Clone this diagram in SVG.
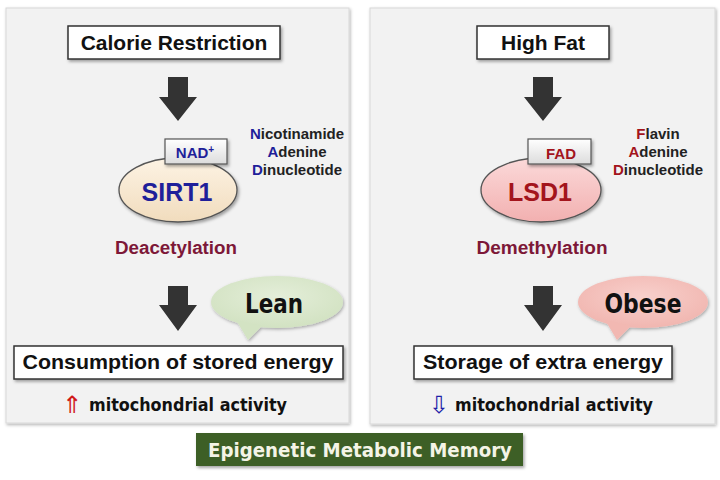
<svg xmlns="http://www.w3.org/2000/svg" width="720" height="480" viewBox="0 0 720 480">
<defs>
<filter id="sh" x="-10%" y="-10%" width="130%" height="140%">
<feDropShadow dx="1.5" dy="2" stdDeviation="1.5" flood-color="#000" flood-opacity="0.35"/>
</filter>
<filter id="psh" x="-5%" y="-5%" width="110%" height="110%">
<feDropShadow dx="1" dy="1.5" stdDeviation="1.5" flood-color="#000" flood-opacity="0.3"/>
</filter>
<linearGradient id="gCream" x1="0" y1="0" x2="0" y2="1">
<stop offset="0" stop-color="#fdf3e4"/><stop offset="1" stop-color="#f1dcbd"/>
</linearGradient>
<linearGradient id="gPink" x1="0" y1="0" x2="0" y2="1">
<stop offset="0" stop-color="#fbd9d9"/><stop offset="1" stop-color="#f2b0b0"/>
</linearGradient>
<linearGradient id="gTag" x1="0" y1="0" x2="0" y2="1">
<stop offset="0" stop-color="#ffffff"/><stop offset="1" stop-color="#dcdcdc"/>
</linearGradient>
<radialGradient id="gLean" cx="0.5" cy="0.4" r="0.6">
<stop offset="0" stop-color="#e4eed9"/><stop offset="1" stop-color="#d2e2c2"/>
</radialGradient>
<radialGradient id="gObese" cx="0.5" cy="0.4" r="0.6">
<stop offset="0" stop-color="#f8d0cc"/><stop offset="1" stop-color="#f1b6b0"/>
</radialGradient>
</defs>
<style>
.panel{fill:#f2f2f2;stroke:#d8d8d8;stroke-width:1}
.box{fill:#ffffff;stroke:#333333;stroke-width:1.5}
.t{font-family:"Liberation Sans",Arial,sans-serif;font-weight:bold;text-anchor:middle}
.c{font-family:"DejaVu Sans","Liberation Sans",sans-serif;font-weight:bold;text-anchor:middle}
.arrow{fill:#333333}
.tag{fill:url(#gTag);stroke:#555;stroke-width:1.2}
.enz{stroke:#555;stroke-width:1.3}
.mag{fill:#7d1838}
</style>
<rect width="720" height="480" fill="#ffffff"/>
<g id="panel-left"><rect class="panel" x="6" y="8" width="343" height="415" filter="url(#psh)"/></g>
<g id="panel-right"><rect class="panel" x="370" y="8" width="345" height="416" filter="url(#psh)"/></g>

<g id="connectors">
<polygon class="arrow" points="168,77 188,77 188,97 197,97 178,121 159,97 168,97"/>
<polygon class="arrow" points="168,286 188,286 188,305 197,305 178,331 159,305 168,305"/>
<polygon class="arrow" points="533,77 553,77 553,97 562,97 543,121 524,97 533,97"/>
<polygon class="arrow" points="533,286 553,286 553,305 562,305 543,331 524,305 533,305"/>
</g>

<g id="calorie-restriction">
<rect class="box" x="68" y="26" width="212" height="33" filter="url(#sh)"/>
<text class="t" x="174" y="50" font-size="21" fill="#111">Calorie Restriction</text>
</g>
<g id="sirt1">
<ellipse class="enz" cx="178" cy="190" rx="59" ry="32" fill="url(#gCream)" filter="url(#sh)"/>
<text class="t" x="177" y="201" font-size="25" fill="#1f1f9a">SIRT1</text>
</g>
<g id="nad">
<rect class="tag" x="165" y="139" width="62" height="25" filter="url(#sh)"/>
<text class="t" x="195" y="158" font-size="15" fill="#1f1f9a">NAD<tspan font-size="10" dy="-5">+</tspan></text>
</g>
<g id="nad-legend">
<text class="t" x="297" y="139" font-size="15" fill="#222"><tspan fill="#1f1f9a">N</tspan>icotinamide</text>
<text class="t" x="297" y="157" font-size="15" fill="#222"><tspan fill="#1f1f9a">A</tspan>denine</text>
<text class="t" x="297" y="175" font-size="15" fill="#222"><tspan fill="#1f1f9a">D</tspan>inucleotide</text>
</g>
<g id="deacetylation">
<text class="t mag" x="176" y="254" font-size="18" textLength="122" lengthAdjust="spacingAndGlyphs">Deacetylation</text>
</g>
<g id="lean">
<g filter="url(#psh)">
<ellipse cx="277" cy="302" rx="66" ry="26" fill="url(#gLean)"/>
<polygon points="236,320 248,340 262,326" fill="#d3e3c3"/>
</g>
<text class="c" x="274" y="313" font-size="26" fill="#111" textLength="58" lengthAdjust="spacingAndGlyphs">Lean</text>
</g>
<g id="consumption">
<rect class="box" x="14" y="346" width="329" height="33" filter="url(#sh)"/>
<text class="t" x="178" y="369" font-size="21" fill="#111" textLength="311" lengthAdjust="spacingAndGlyphs">Consumption of stored energy</text>
</g>
<g id="mito-left">
<text x="72" y="413" font-family="DejaVu Sans, sans-serif" font-size="24" text-anchor="middle" fill="#d01818">⇑</text>
<text class="c" x="188" y="411" font-size="18" fill="#111" textLength="198" lengthAdjust="spacingAndGlyphs">mitochondrial activity</text>
</g>

<g id="high-fat">
<rect class="box" x="477" y="26" width="132" height="33" filter="url(#sh)"/>
<text class="t" x="543" y="50" font-size="21" fill="#111">High Fat</text>
</g>
<g id="lsd1">
<ellipse class="enz" cx="541" cy="190" rx="60" ry="32" fill="url(#gPink)" filter="url(#sh)"/>
<text class="t" x="540" y="201" font-size="25" fill="#a3141c">LSD1</text>
</g>
<g id="fad">
<rect class="tag" x="528" y="139" width="63" height="25" filter="url(#sh)"/>
<text class="t" x="561" y="159" font-size="15" fill="#a3141c">FAD</text>
</g>
<g id="fad-legend">
<text class="t" x="658" y="139" font-size="15" fill="#222"><tspan fill="#a3141c">F</tspan>lavin</text>
<text class="t" x="658" y="157" font-size="15" fill="#222"><tspan fill="#a3141c">A</tspan>denine</text>
<text class="t" x="658" y="175" font-size="15" fill="#222"><tspan fill="#a3141c">D</tspan>inucleotide</text>
</g>
<g id="demethylation">
<text class="t mag" x="542" y="254" font-size="18" textLength="131" lengthAdjust="spacingAndGlyphs">Demethylation</text>
</g>
<g id="obese">
<g filter="url(#psh)">
<ellipse cx="643" cy="302" rx="65" ry="26" fill="url(#gObese)"/>
<polygon points="605,320 617,340 631,326" fill="#f2b8b2"/>
</g>
<text class="c" x="643" y="313" font-size="26" fill="#111" textLength="77" lengthAdjust="spacingAndGlyphs">Obese</text>
</g>
<g id="storage">
<rect class="box" x="414" y="346" width="258" height="33" filter="url(#sh)"/>
<text class="t" x="543" y="369" font-size="21" fill="#111" textLength="240" lengthAdjust="spacingAndGlyphs">Storage of extra energy</text>
</g>
<g id="mito-right">
<text x="439" y="413" font-family="DejaVu Sans, sans-serif" font-size="24" text-anchor="middle" fill="#1f1fa8">⇩</text>
<text class="c" x="554" y="411" font-size="18" fill="#111" textLength="198" lengthAdjust="spacingAndGlyphs">mitochondrial activity</text>
</g>

<g id="banner">
<rect x="196" y="433" width="327" height="33" fill="#3c5f28" filter="url(#sh)"/>
<text class="c" x="360" y="457" font-size="19" fill="#f4f4e6" textLength="304" lengthAdjust="spacingAndGlyphs">Epigenetic Metabolic Memory</text>
</g>
</svg>
